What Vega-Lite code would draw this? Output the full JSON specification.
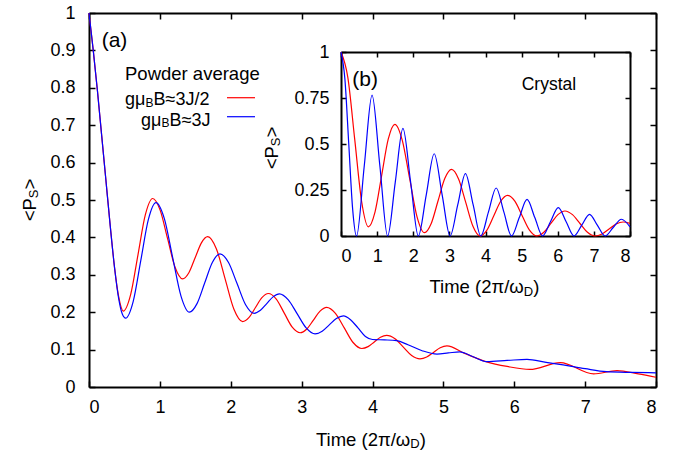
{
  "$schema": "https://vega.github.io/schema/vega-lite/v6.json",
  "width": 567,
  "height": 374,
  "autosize": {"type": "none"},
  "padding": {"left": 89, "top": 13, "right": 23, "bottom": 64},
  "background": "white",
  "config": {
    "view": {"stroke": null},
    "font": "Liberation Sans",
    "text": {"font": "Liberation Sans", "color": "black"},
    "axis": {"grid": false, "labelFont": "Liberation Sans", "labelColor": "black", "tickColor": "black", "domainColor": "black", "labelFontSize": 18, "title": null}
  },
  "datasets": {
    "one": [{}],
    "powder": [
      {"t": 0, "P": 1.0, "s": "3J/2"}, {"t": 0.06, "P": 0.9, "s": "3J/2"}, {"t": 0.12, "P": 0.79, "s": "3J/2"}, {"t": 0.18, "P": 0.67, "s": "3J/2"}, {"t": 0.24, "P": 0.55, "s": "3J/2"}, {"t": 0.3, "P": 0.43, "s": "3J/2"}, {"t": 0.36, "P": 0.32, "s": "3J/2"}, {"t": 0.42, "P": 0.24, "s": "3J/2"}, {"t": 0.484, "P": 0.203, "s": "3J/2"},
      {"t": 0.5875, "P": 0.247, "s": "3J/2"}, {"t": 0.691, "P": 0.3535, "s": "3J/2"}, {"t": 0.7945, "P": 0.46, "s": "3J/2"}, {"t": 0.898, "P": 0.504, "s": "3J/2"},
      {"t": 1.0035, "P": 0.473, "s": "3J/2"}, {"t": 1.109, "P": 0.3965, "s": "3J/2"}, {"t": 1.2145, "P": 0.32, "s": "3J/2"}, {"t": 1.32, "P": 0.289, "s": "3J/2"},
      {"t": 1.409, "P": 0.3055, "s": "3J/2"}, {"t": 1.4975, "P": 0.3455, "s": "3J/2"}, {"t": 1.586, "P": 0.3855, "s": "3J/2"}, {"t": 1.675, "P": 0.402, "s": "3J/2"},
      {"t": 1.798, "P": 0.369, "s": "3J/2"}, {"t": 1.9215, "P": 0.2885, "s": "3J/2"}, {"t": 2.045, "P": 0.208, "s": "3J/2"}, {"t": 2.168, "P": 0.175, "s": "3J/2"},
      {"t": 2.2585, "P": 0.186, "s": "3J/2"}, {"t": 2.349, "P": 0.2125, "s": "3J/2"}, {"t": 2.4395, "P": 0.239, "s": "3J/2"}, {"t": 2.53, "P": 0.25, "s": "3J/2"},
      {"t": 2.6425, "P": 0.235, "s": "3J/2"}, {"t": 2.755, "P": 0.1975, "s": "3J/2"}, {"t": 2.8675, "P": 0.16, "s": "3J/2"}, {"t": 2.98, "P": 0.145, "s": "3J/2"},
      {"t": 3.073, "P": 0.155, "s": "3J/2"}, {"t": 3.1665, "P": 0.179, "s": "3J/2"}, {"t": 3.26, "P": 0.203, "s": "3J/2"}, {"t": 3.353, "P": 0.213, "s": "3J/2"},
      {"t": 3.477, "P": 0.197, "s": "3J/2"}, {"t": 3.6015, "P": 0.158, "s": "3J/2"}, {"t": 3.726, "P": 0.119, "s": "3J/2"}, {"t": 3.85, "P": 0.103, "s": "3J/2"},
      {"t": 3.9375, "P": 0.108, "s": "3J/2"}, {"t": 4.025, "P": 0.1205, "s": "3J/2"}, {"t": 4.1125, "P": 0.133, "s": "3J/2"}, {"t": 4.2, "P": 0.138, "s": "3J/2"},
      {"t": 4.3175, "P": 0.129, "s": "3J/2"}, {"t": 4.435, "P": 0.1065, "s": "3J/2"}, {"t": 4.5525, "P": 0.084, "s": "3J/2"}, {"t": 4.67, "P": 0.075, "s": "3J/2"},
      {"t": 4.765, "P": 0.08, "s": "3J/2"}, {"t": 4.86, "P": 0.0925, "s": "3J/2"}, {"t": 4.955, "P": 0.105, "s": "3J/2"}, {"t": 5.05, "P": 0.11, "s": "3J/2"},
      {"t": 5.3, "P": 0.09, "s": "3J/2"}, {"t": 5.6, "P": 0.068, "s": "3J/2"}, {"t": 5.9, "P": 0.055, "s": "3J/2"}, {"t": 6.22, "P": 0.047, "s": "3J/2"},
      {"t": 6.65, "P": 0.065, "s": "3J/2"}, {"t": 7.12, "P": 0.035, "s": "3J/2"}, {"t": 7.45, "P": 0.044, "s": "3J/2"}, {"t": 7.75, "P": 0.035, "s": "3J/2"}, {"t": 8.0, "P": 0.026, "s": "3J/2"},
      {"t": 0, "P": 1.0, "s": "3J"}, {"t": 0.06, "P": 0.9, "s": "3J"}, {"t": 0.12, "P": 0.79, "s": "3J"}, {"t": 0.18, "P": 0.67, "s": "3J"}, {"t": 0.24, "P": 0.55, "s": "3J"}, {"t": 0.3, "P": 0.43, "s": "3J"}, {"t": 0.36, "P": 0.32, "s": "3J"}, {"t": 0.42, "P": 0.235, "s": "3J"}, {"t": 0.47, "P": 0.195, "s": "3J"}, {"t": 0.517, "P": 0.184, "s": "3J"},
      {"t": 0.624, "P": 0.229, "s": "3J"}, {"t": 0.731, "P": 0.3385, "s": "3J"}, {"t": 0.838, "P": 0.448, "s": "3J"}, {"t": 0.945, "P": 0.493, "s": "3J"},
      {"t": 1.063, "P": 0.45, "s": "3J"}, {"t": 1.18, "P": 0.3465, "s": "3J"}, {"t": 1.298, "P": 0.243, "s": "3J"}, {"t": 1.416, "P": 0.2, "s": "3J"},
      {"t": 1.524, "P": 0.223, "s": "3J"}, {"t": 1.632, "P": 0.278, "s": "3J"}, {"t": 1.74, "P": 0.333, "s": "3J"}, {"t": 1.848, "P": 0.356, "s": "3J"},
      {"t": 1.9685, "P": 0.333, "s": "3J"}, {"t": 2.089, "P": 0.2765, "s": "3J"}, {"t": 2.2095, "P": 0.22, "s": "3J"}, {"t": 2.33, "P": 0.197, "s": "3J"},
      {"t": 2.419, "P": 0.205, "s": "3J"}, {"t": 2.508, "P": 0.223, "s": "3J"}, {"t": 2.597, "P": 0.241, "s": "3J"}, {"t": 2.686, "P": 0.249, "s": "3J"},
      {"t": 2.812, "P": 0.233, "s": "3J"}, {"t": 2.938, "P": 0.1955, "s": "3J"}, {"t": 3.064, "P": 0.158, "s": "3J"}, {"t": 3.19, "P": 0.142, "s": "3J"},
      {"t": 3.29, "P": 0.149, "s": "3J"}, {"t": 3.39, "P": 0.166, "s": "3J"}, {"t": 3.49, "P": 0.183, "s": "3J"}, {"t": 3.59, "P": 0.19, "s": "3J"},
      {"t": 3.69, "P": 0.18, "s": "3J"}, {"t": 3.795, "P": 0.158, "s": "3J"}, {"t": 3.9, "P": 0.135, "s": "3J"}, {"t": 4.0, "P": 0.127, "s": "3J"},
      {"t": 4.17, "P": 0.126, "s": "3J"}, {"t": 4.34, "P": 0.124, "s": "3J"}, {"t": 4.5, "P": 0.113, "s": "3J"}, {"t": 4.7, "P": 0.097, "s": "3J"}, {"t": 4.91, "P": 0.088, "s": "3J"},
      {"t": 5.07, "P": 0.091, "s": "3J"}, {"t": 5.23, "P": 0.094, "s": "3J"}, {"t": 5.42, "P": 0.081, "s": "3J"}, {"t": 5.61, "P": 0.068, "s": "3J"}, {"t": 5.9, "P": 0.071, "s": "3J"},
      {"t": 6.18, "P": 0.074, "s": "3J"}, {"t": 6.45, "P": 0.066, "s": "3J"}, {"t": 6.69, "P": 0.059, "s": "3J"}, {"t": 7.0, "P": 0.049, "s": "3J"}, {"t": 7.3, "P": 0.041, "s": "3J"}, {"t": 7.65, "P": 0.039, "s": "3J"}, {"t": 8.0, "P": 0.038, "s": "3J"}
    ],
    "crystal": [
      {"t": 0, "P": 1.0, "s": "3J/2"}, {"t": 0.19, "P": 0.861, "s": "3J/2"}, {"t": 0.38, "P": 0.525, "s": "3J/2"}, {"t": 0.57, "P": 0.189, "s": "3J/2"}, {"t": 0.76, "P": 0.05, "s": "3J/2"},
      {"t": 0.9425, "P": 0.131, "s": "3J/2"}, {"t": 1.125, "P": 0.3285, "s": "3J/2"}, {"t": 1.3075, "P": 0.526, "s": "3J/2"}, {"t": 1.49, "P": 0.607, "s": "3J/2"},
      {"t": 1.695, "P": 0.521, "s": "3J/2"}, {"t": 1.9, "P": 0.3125, "s": "3J/2"}, {"t": 2.105, "P": 0.104, "s": "3J/2"}, {"t": 2.31, "P": 0.018, "s": "3J/2"},
      {"t": 2.4975, "P": 0.068, "s": "3J/2"}, {"t": 2.685, "P": 0.19, "s": "3J/2"}, {"t": 2.8725, "P": 0.312, "s": "3J/2"}, {"t": 3.06, "P": 0.362, "s": "3J/2"},
      {"t": 3.2575, "P": 0.309, "s": "3J/2"}, {"t": 3.455, "P": 0.181, "s": "3J/2"}, {"t": 3.6525, "P": 0.053, "s": "3J/2"}, {"t": 3.85, "P": 0.0, "s": "3J/2"},
      {"t": 4.04, "P": 0.032, "s": "3J/2"}, {"t": 4.23, "P": 0.11, "s": "3J/2"}, {"t": 4.42, "P": 0.189, "s": "3J/2"}, {"t": 4.61, "P": 0.221, "s": "3J/2"},
      {"t": 4.8125, "P": 0.189, "s": "3J/2"}, {"t": 5.015, "P": 0.11, "s": "3J/2"}, {"t": 5.2175, "P": 0.032, "s": "3J/2"}, {"t": 5.42, "P": 0.0, "s": "3J/2"},
      {"t": 5.615, "P": 0.02, "s": "3J/2"}, {"t": 5.81, "P": 0.068, "s": "3J/2"}, {"t": 6.005, "P": 0.116, "s": "3J/2"}, {"t": 6.2, "P": 0.136, "s": "3J/2"},
      {"t": 6.4075, "P": 0.116, "s": "3J/2"}, {"t": 6.615, "P": 0.068, "s": "3J/2"}, {"t": 6.8225, "P": 0.02, "s": "3J/2"}, {"t": 7.03, "P": 0.0, "s": "3J/2"},
      {"t": 7.225, "P": 0.011, "s": "3J/2"}, {"t": 7.42, "P": 0.038, "s": "3J/2"}, {"t": 7.615, "P": 0.065, "s": "3J/2"}, {"t": 7.81, "P": 0.076, "s": "3J/2"}, {"t": 8.0, "P": 0.069, "s": "3J/2"},
      {"t": 0, "P": 1.0, "s": "3J"}, {"t": 0.1075, "P": 0.854, "s": "3J"}, {"t": 0.215, "P": 0.5, "s": "3J"}, {"t": 0.3225, "P": 0.146, "s": "3J"}, {"t": 0.43, "P": 0.0, "s": "3J"},
      {"t": 0.645, "P": 0.383, "s": "3J"}, {"t": 0.86, "P": 0.766, "s": "3J"}, {"t": 1.075, "P": 0.383, "s": "3J"}, {"t": 1.29, "P": 0.0, "s": "3J"},
      {"t": 1.5025, "P": 0.293, "s": "3J"}, {"t": 1.715, "P": 0.585, "s": "3J"}, {"t": 1.9275, "P": 0.293, "s": "3J"}, {"t": 2.14, "P": 0.0, "s": "3J"},
      {"t": 2.36, "P": 0.224, "s": "3J"}, {"t": 2.58, "P": 0.447, "s": "3J"}, {"t": 2.8, "P": 0.224, "s": "3J"}, {"t": 3.02, "P": 0.0, "s": "3J"},
      {"t": 3.2325, "P": 0.17, "s": "3J"}, {"t": 3.445, "P": 0.339, "s": "3J"}, {"t": 3.6575, "P": 0.17, "s": "3J"}, {"t": 3.87, "P": 0.0, "s": "3J"},
      {"t": 4.0825, "P": 0.131, "s": "3J"}, {"t": 4.295, "P": 0.261, "s": "3J"}, {"t": 4.5075, "P": 0.131, "s": "3J"}, {"t": 4.72, "P": 0.0, "s": "3J"},
      {"t": 4.935, "P": 0.1, "s": "3J"}, {"t": 5.15, "P": 0.199, "s": "3J"}, {"t": 5.365, "P": 0.1, "s": "3J"}, {"t": 5.58, "P": 0.0, "s": "3J"},
      {"t": 5.7975, "P": 0.077, "s": "3J"}, {"t": 6.015, "P": 0.154, "s": "3J"}, {"t": 6.2325, "P": 0.077, "s": "3J"}, {"t": 6.45, "P": 0.0, "s": "3J"},
      {"t": 6.665, "P": 0.059, "s": "3J"}, {"t": 6.88, "P": 0.118, "s": "3J"}, {"t": 7.095, "P": 0.059, "s": "3J"}, {"t": 7.31, "P": 0.0, "s": "3J"},
      {"t": 7.535, "P": 0.046, "s": "3J"}, {"t": 7.76, "P": 0.091, "s": "3J"}, {"t": 8.0, "P": 0.05, "s": "3J"}
    ]
  },
  "layer": [
    {
      "layer": [
        {
          "data": {"name": "powder"},
          "mark": {"type": "line", "strokeWidth": 1.2, "interpolate": "monotone"},
          "encoding": {
            "x": {"field": "t", "type": "quantitative", "scale": {"domain": [0, 8], "nice": false, "zero": false},
                  "axis": {"orient": "bottom", "values": [0, 1, 2, 3, 4, 5, 6, 7, 8], "format": "d", "tickSize": -6, "tickWidth": 1.5, "domainWidth": 2, "labelPadding": 17}},
            "y": {"field": "P", "type": "quantitative", "scale": {"domain": [0, 1], "nice": false},
                  "axis": {"orient": "left", "values": [0, 0.1, 0.2, 0.3, 0.4, 0.5, 0.6, 0.7, 0.8, 0.9, 1], "format": ".2~g", "tickSize": -6, "tickWidth": 1.5, "domainWidth": 2, "labelPadding": 20}},
            "color": {"field": "s", "type": "nominal", "scale": {"domain": ["3J/2", "3J"], "range": ["#ff0000", "#0000ff"]}, "legend": null}
          }
        },
        {
          "data": {"name": "powder"},
          "mark": {"type": "line", "opacity": 0},
          "encoding": {
            "x": {"field": "t", "type": "quantitative", "axis": {"orient": "top", "values": [0, 1, 2, 3, 4, 5, 6, 7, 8], "labels": false, "tickSize": -6, "tickWidth": 1.5, "domainWidth": 2}},
            "y": {"field": "P", "type": "quantitative", "axis": {"orient": "right", "values": [0, 0.1, 0.2, 0.3, 0.4, 0.5, 0.6, 0.7, 0.8, 0.9, 1], "labels": false, "tickSize": -6, "tickWidth": 1.5, "domainWidth": 2}}
          }
        },
        {"data": {"name": "one"}, "mark": {"type": "text", "align": "right", "fontSize": 18.5}, "encoding": {"x": {"datum": 4.533, "axis": null}, "y": {"datum": -0.1417, "axis": null}, "text": {"value": "Time (2π/ω"}}},
        {"data": {"name": "one"}, "mark": {"type": "text", "align": "left", "fontSize": 13, "dy": 4.5}, "encoding": {"x": {"datum": 4.533, "axis": null}, "y": {"datum": -0.1417, "axis": null}, "text": {"value": "D"}}},
        {"data": {"name": "one"}, "mark": {"type": "text", "align": "left", "fontSize": 18.5, "dx": 9.4}, "encoding": {"x": {"datum": 4.533, "axis": null}, "y": {"datum": -0.1417, "axis": null}, "text": {"value": ")"}}},
        {"data": {"name": "one"}, "mark": {"type": "text", "align": "right", "fontSize": 18.5, "angle": 270}, "encoding": {"x": {"datum": -0.8325, "axis": null}, "y": {"datum": 0.5048, "axis": null}, "text": {"value": "<P"}}},
        {"data": {"name": "one"}, "mark": {"type": "text", "align": "left", "fontSize": 13, "angle": 270, "dy": 4.5}, "encoding": {"x": {"datum": -0.8325, "axis": null}, "y": {"datum": 0.5048, "axis": null}, "text": {"value": "S"}}},
        {"data": {"name": "one"}, "mark": {"type": "text", "align": "left", "fontSize": 18.5, "angle": 270, "dx": 8.7}, "encoding": {"x": {"datum": -0.8325, "axis": null}, "y": {"datum": 0.5048, "axis": null}, "text": {"value": ">"}}},
        {"data": {"name": "one"}, "mark": {"type": "text", "align": "left", "fontSize": 21}, "encoding": {"x": {"datum": 0.179, "axis": null}, "y": {"datum": 0.9257, "axis": null}, "text": {"value": "(a)"}}},
        {"data": {"name": "one"}, "mark": {"type": "text", "align": "left", "fontSize": 18.5}, "encoding": {"x": {"datum": 0.508, "axis": null}, "y": {"datum": 0.8356, "axis": null}, "text": {"value": "Powder average"}}},
        {"data": {"name": "one"}, "mark": {"type": "text", "align": "left", "fontSize": 18}, "encoding": {"x": {"datum": 0.508, "axis": null}, "y": {"datum": 0.767, "axis": null}, "text": {"value": "gμ"}}},
        {"data": {"name": "one"}, "mark": {"type": "text", "align": "left", "fontSize": 12, "dx": 20.4, "dy": 2.5}, "encoding": {"x": {"datum": 0.508, "axis": null}, "y": {"datum": 0.767, "axis": null}, "text": {"value": "B"}}},
        {"data": {"name": "one"}, "mark": {"type": "text", "align": "left", "fontSize": 18, "dx": 28.6}, "encoding": {"x": {"datum": 0.508, "axis": null}, "y": {"datum": 0.767, "axis": null}, "text": {"value": "B≈3J/2"}}},
        {"data": {"name": "one"}, "mark": {"type": "text", "align": "left", "fontSize": 18}, "encoding": {"x": {"datum": 0.734, "axis": null}, "y": {"datum": 0.7113, "axis": null}, "text": {"value": "gμ"}}},
        {"data": {"name": "one"}, "mark": {"type": "text", "align": "left", "fontSize": 12, "dx": 20.4, "dy": 2.5}, "encoding": {"x": {"datum": 0.734, "axis": null}, "y": {"datum": 0.7113, "axis": null}, "text": {"value": "B"}}},
        {"data": {"name": "one"}, "mark": {"type": "text", "align": "left", "fontSize": 18, "dx": 28.6}, "encoding": {"x": {"datum": 0.734, "axis": null}, "y": {"datum": 0.7113, "axis": null}, "text": {"value": "B≈3J"}}},
        {"data": {"name": "one"}, "mark": {"type": "rule", "color": "#ff0000", "strokeWidth": 1.2}, "encoding": {"x": {"datum": 1.947, "axis": null}, "x2": {"datum": 2.342}, "y": {"datum": 0.7735, "axis": null}}},
        {"data": {"name": "one"}, "mark": {"type": "rule", "color": "#0000ff", "strokeWidth": 1.2}, "encoding": {"x": {"datum": 1.947, "axis": null}, "x2": {"datum": 2.342}, "y": {"datum": 0.7227, "axis": null}}},
        {"data": {"name": "one"}, "mark": {"type": "text", "align": "left", "fontSize": 21}, "encoding": {"x": {"datum": 3.715, "axis": null}, "y": {"datum": 0.8198, "axis": null}, "text": {"value": "(b)"}}},
        {"data": {"name": "one"}, "mark": {"type": "text", "align": "left", "fontSize": 17.5}, "encoding": {"x": {"datum": 6.105, "axis": null}, "y": {"datum": 0.8075, "axis": null}, "text": {"value": "Crystal"}}},
        {"data": {"name": "one"}, "mark": {"type": "text", "align": "right", "fontSize": 18.5}, "encoding": {"x": {"datum": 6.135, "axis": null}, "y": {"datum": 0.2666, "axis": null}, "text": {"value": "Time (2π/ω"}}},
        {"data": {"name": "one"}, "mark": {"type": "text", "align": "left", "fontSize": 13, "dy": 4.5}, "encoding": {"x": {"datum": 6.135, "axis": null}, "y": {"datum": 0.2666, "axis": null}, "text": {"value": "D"}}},
        {"data": {"name": "one"}, "mark": {"type": "text", "align": "left", "fontSize": 18.5, "dx": 9.4}, "encoding": {"x": {"datum": 6.135, "axis": null}, "y": {"datum": 0.2666, "axis": null}, "text": {"value": ")"}}},
        {"data": {"name": "one"}, "mark": {"type": "text", "align": "right", "fontSize": 18.5, "angle": 270}, "encoding": {"x": {"datum": 2.582, "axis": null}, "y": {"datum": 0.6439, "axis": null}, "text": {"value": "<P"}}},
        {"data": {"name": "one"}, "mark": {"type": "text", "align": "left", "fontSize": 13, "angle": 270, "dy": 4.5}, "encoding": {"x": {"datum": 2.582, "axis": null}, "y": {"datum": 0.6439, "axis": null}, "text": {"value": "S"}}},
        {"data": {"name": "one"}, "mark": {"type": "text", "align": "left", "fontSize": 18.5, "angle": 270, "dx": 8.7}, "encoding": {"x": {"datum": 2.582, "axis": null}, "y": {"datum": 0.6439, "axis": null}, "text": {"value": ">"}}}
      ],
      "resolve": {"axis": {"x": "independent", "y": "independent"}}
    },
    {
      "layer": [
        {
          "data": {"name": "crystal"},
          "mark": {"type": "line", "strokeWidth": 1.2, "interpolate": "monotone"},
          "encoding": {
            "x": {"field": "t", "type": "quantitative", "scale": {"domain": [0, 8], "nice": false, "zero": false, "range": [252, 541]},
                  "axis": {"orient": "bottom", "offset": -151, "values": [0, 1, 2, 3, 4, 5, 6, 7, 8], "format": "d", "tickSize": -5, "tickWidth": 1.5, "domainWidth": 2, "labelPadding": 16}},
            "y": {"field": "P", "type": "quantitative", "scale": {"domain": [0, 1], "nice": false, "range": [223, 39]},
                  "axis": {"orient": "left", "offset": -252, "values": [0, 0.25, 0.5, 0.75, 1], "format": ".2~g", "tickSize": -5, "tickWidth": 1.5, "domainWidth": 2, "labelPadding": 17}},
            "color": {"field": "s", "type": "nominal", "scale": {"domain": ["3J/2", "3J"], "range": ["#ff0000", "#0000ff"]}, "legend": null}
          }
        },
        {
          "data": {"name": "crystal"},
          "mark": {"type": "line", "opacity": 0},
          "encoding": {
            "x": {"field": "t", "type": "quantitative", "axis": {"orient": "top", "offset": -39, "values": [0, 1, 2, 3, 4, 5, 6, 7, 8], "labels": false, "tickSize": -5, "tickWidth": 1.5, "domainWidth": 2}},
            "y": {"field": "P", "type": "quantitative", "axis": {"orient": "right", "offset": -26, "values": [0, 0.25, 0.5, 0.75, 1], "labels": false, "tickSize": -5, "tickWidth": 1.5, "domainWidth": 2}}
          }
        }
      ],
      "resolve": {"axis": {"x": "independent", "y": "independent"}}
    }
  ],
  "resolve": {"scale": {"x": "independent", "y": "independent", "color": "independent"}, "axis": {"x": "independent", "y": "independent"}}
}
